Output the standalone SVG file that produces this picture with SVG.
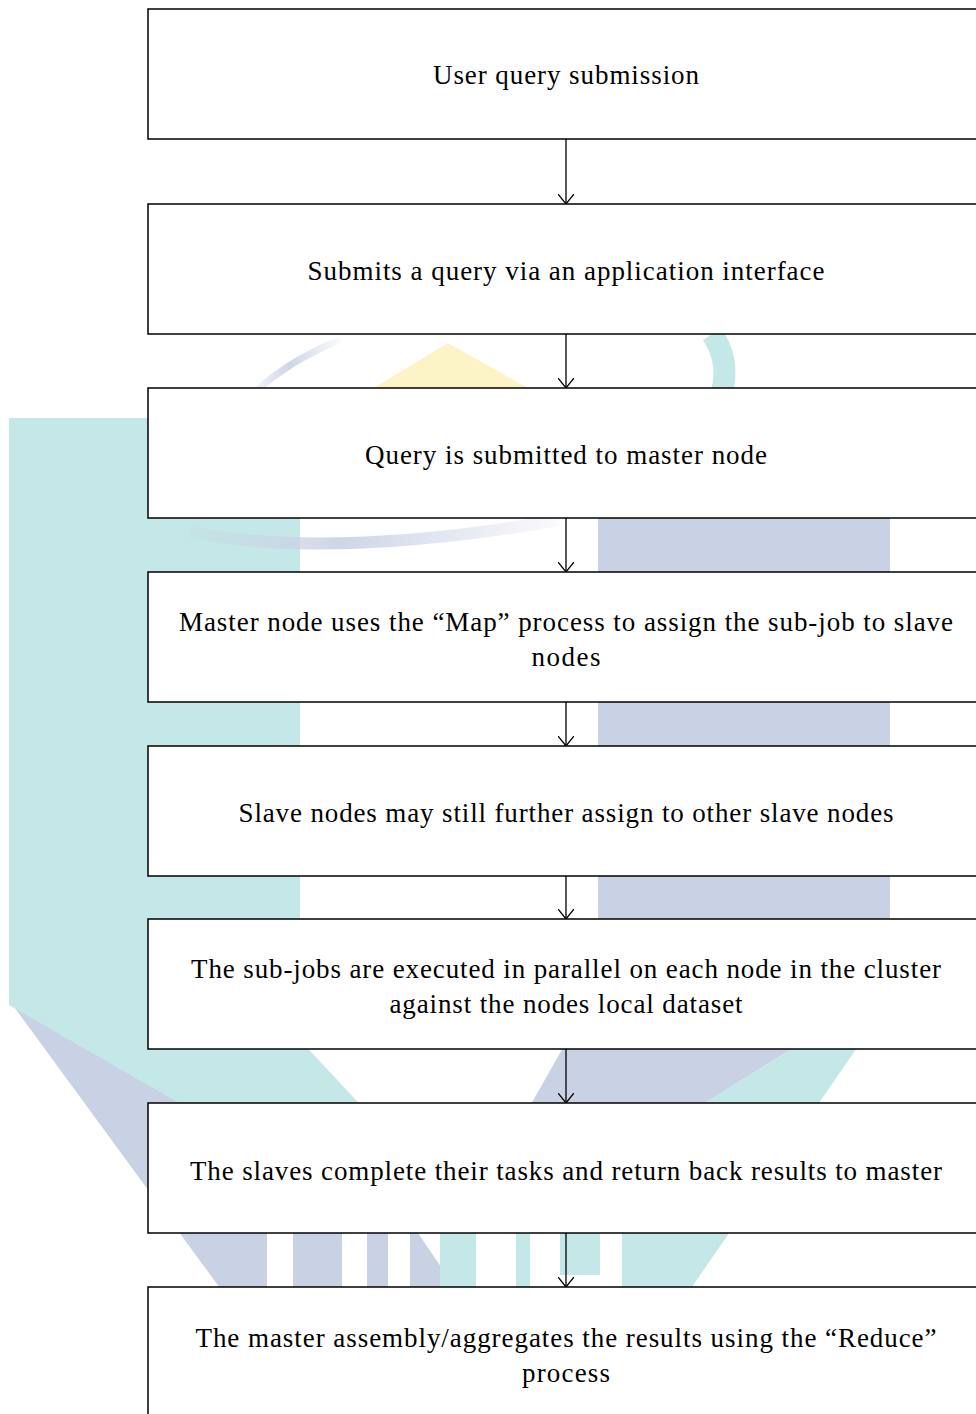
<svg xmlns="http://www.w3.org/2000/svg" width="976" height="1414" viewBox="0 0 976 1414">
  <style>
    .box { fill: #ffffff; stroke: #000000; stroke-width: 1.5; }
    .lbl { font-family: "Liberation Serif", "Times New Roman", serif; font-size: 27px; fill: #000000; text-anchor: middle; }
    .edge { stroke: #000000; stroke-width: 1.3; fill: none; marker-end: url(#open-arrow); }
    .teal { fill: #c4e8e7; }
    .lav { fill: #c9d1e4; }
  </style>
  <defs>
    <marker id="open-arrow" viewBox="0 0 10 16" refX="10" refY="8" markerWidth="10" markerHeight="16" markerUnits="userSpaceOnUse" orient="auto">
      <path d="M0,0 L10,8 L0,16" fill="none" stroke="#000000" stroke-width="1.3"/>
    </marker>
    <linearGradient id="swoosh-fade" x1="0" y1="0" x2="1" y2="0">
      <stop offset="0" stop-color="#c9d1e4" stop-opacity="0.2"/>
      <stop offset="0.4" stop-color="#c9d1e4" stop-opacity="0.9"/>
      <stop offset="1" stop-color="#c9d1e4" stop-opacity="0.1"/>
    </linearGradient>
  </defs>

  <rect width="976" height="1414" fill="#ffffff"/>

  <!-- faint background emblem -->
  <g id="emblem">
    <!-- left arm, lavender under teal -->
    <polygon class="lav" points="9,1000 260,1000 460,1295 225,1295"/>
    <polygon class="teal" points="9,418 300,418 300,1040 370,1115 200,1115 87,1050 9,1005"/>
    <!-- right arm -->
    <polygon class="lav" points="598,450 890,450 890,985 790,1050 705,1103 620,1240 605,1300 420,1300 598,986"/>
    <polygon class="teal" points="890,985 890,1000 683,1300 605,1300 620,1240 705,1103 790,1050"/>
    <!-- ring and peak -->
    <polygon points="448,343 367,392 535,392" fill="#fcf2bd" opacity="0.85"/>
    <path d="M255,392 Q290,360 340,340" fill="none" stroke="url(#swoosh-fade)" stroke-width="7"/>
    <path d="M712,334 Q730,360 722,392" fill="none" stroke="#c4e8e7" stroke-width="22"/>
    <path d="M190,532 Q330,560 560,520" fill="none" stroke="url(#swoosh-fade)" stroke-width="12"/>
    <!-- lettering -->
    <rect x="267" y="1225" width="26" height="70" fill="#ffffff"/>
    <rect x="342" y="1225" width="25" height="70" fill="#ffffff"/>
    <rect x="388" y="1225" width="22" height="70" fill="#ffffff"/>
    <rect x="440" y="1225" width="36" height="70" class="teal"/>
    <rect x="476" y="1225" width="40" height="70" fill="#ffffff"/>
    <rect x="516" y="1225" width="14" height="70" class="teal"/>
    <rect x="530" y="1225" width="30" height="70" fill="#ffffff"/>
    <rect x="560" y="1225" width="40" height="50" class="teal"/>
    <rect x="560" y="1275" width="40" height="20" fill="#ffffff"/>
    <rect x="600" y="1225" width="22" height="70" fill="#ffffff"/>
  </g>

  <g id="n1">
    <rect class="box" x="148" y="9" width="840" height="130"/>
    <text class="lbl" x="566" y="84" textLength="266" lengthAdjust="spacing">User query submission</text>
  </g>
  <g id="n2">
    <rect class="box" x="148" y="204" width="840" height="130"/>
    <text class="lbl" x="566" y="280" textLength="517" lengthAdjust="spacing">Submits a query via an application interface</text>
  </g>
  <g id="n3">
    <rect class="box" x="148" y="388" width="840" height="130"/>
    <text class="lbl" x="566" y="464" textLength="402" lengthAdjust="spacing">Query is submitted to master node</text>
  </g>
  <g id="n4">
    <rect class="box" x="148" y="572" width="840" height="130"/>
    <text class="lbl" x="566" y="631" textLength="774" lengthAdjust="spacing">Master node uses the “Map” process to assign the sub-job to slave</text>
    <text class="lbl" x="566" y="666" textLength="69" lengthAdjust="spacing">nodes</text>
  </g>
  <g id="n5">
    <rect class="box" x="148" y="746" width="840" height="130"/>
    <text class="lbl" x="566" y="822" textLength="655" lengthAdjust="spacing">Slave nodes may still further assign to other slave nodes</text>
  </g>
  <g id="n6">
    <rect class="box" x="148" y="919" width="840" height="130"/>
    <text class="lbl" x="566" y="978" textLength="750" lengthAdjust="spacing">The sub-jobs are executed in parallel on each node in the cluster</text>
    <text class="lbl" x="566" y="1013" textLength="353" lengthAdjust="spacing">against the nodes local dataset</text>
  </g>
  <g id="n7">
    <rect class="box" x="148" y="1103" width="840" height="130"/>
    <text class="lbl" x="566" y="1180" textLength="752" lengthAdjust="spacing">The slaves complete their tasks and return back results to master</text>
  </g>
  <g id="n8">
    <rect class="box" x="148" y="1287" width="840" height="140"/>
    <text class="lbl" x="566" y="1347" textLength="741" lengthAdjust="spacing">The master assembly/aggregates the results using the “Reduce”</text>
    <text class="lbl" x="566" y="1382" textLength="88" lengthAdjust="spacing">process</text>
  </g>

  <g id="connectors">
    <line class="edge" x1="566" y1="139" x2="566" y2="204"/>
    <line class="edge" x1="566" y1="334" x2="566" y2="388"/>
    <line class="edge" x1="566" y1="518" x2="566" y2="572"/>
    <line class="edge" x1="566" y1="702" x2="566" y2="746"/>
    <line class="edge" x1="566" y1="876" x2="566" y2="919"/>
    <line class="edge" x1="566" y1="1049" x2="566" y2="1103"/>
    <line class="edge" x1="566" y1="1233" x2="566" y2="1287"/>
  </g>
</svg>
